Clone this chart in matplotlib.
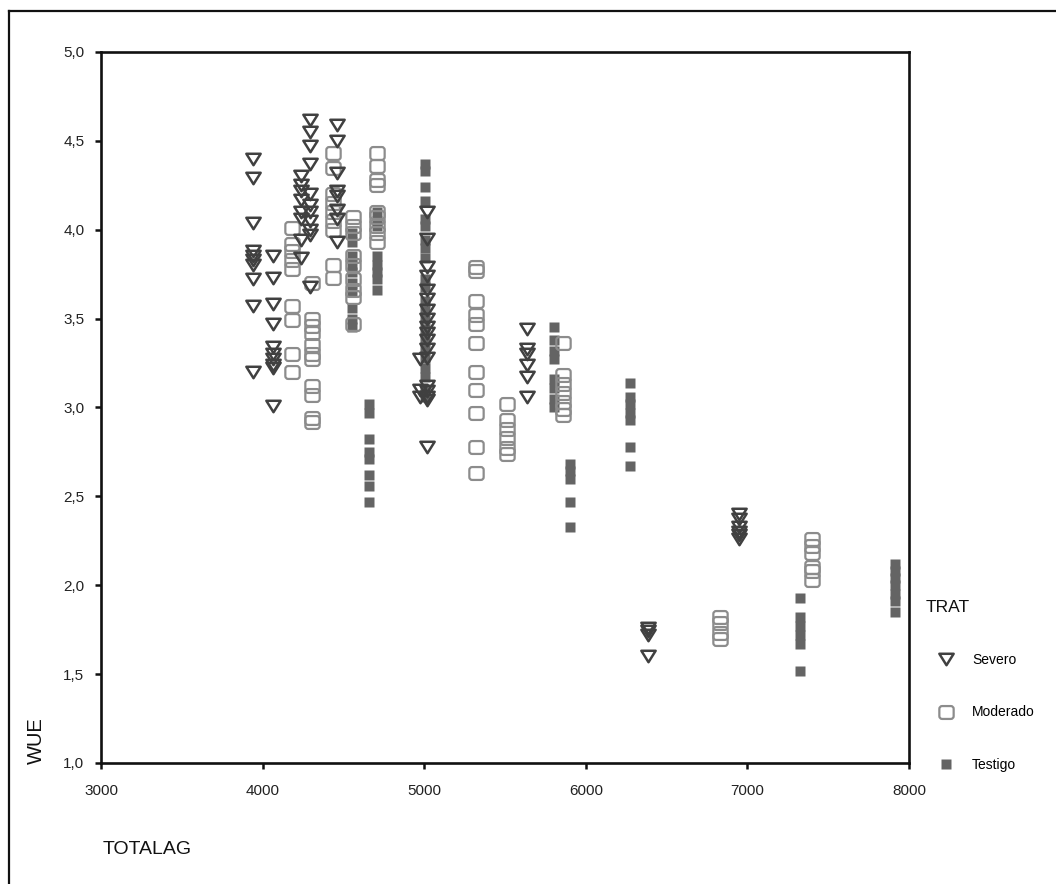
import matplotlib
matplotlib.use('Agg')
import matplotlib.pyplot as plt
from matplotlib.path import Path
from matplotlib.lines import Line2D
from matplotlib.ticker import FuncFormatter

plt.rcParams['font.family'] = ['Liberation Sans', 'DejaVu Sans']

# columns of points: x value of each column and the WUE values in it
severo_cols = [3940, 4065, 4240, 4295, 4460, 4975, 5020, 5635, 6385, 6948]
severo_vals = [
    [4.40, 4.29, 4.04, 3.88, 3.85, 3.83, 3.80, 3.72, 3.57, 3.20],
    [3.85, 3.73, 3.58, 3.47, 3.34, 3.30, 3.27, 3.24, 3.22, 3.01],
    [4.30, 4.25, 4.22, 4.17, 4.10, 4.06, 3.94, 3.84],
    [4.62, 4.55, 4.47, 4.37, 4.20, 4.14, 4.10, 4.05, 4.00, 3.97, 3.68],
    [4.59, 4.50, 4.32, 4.22, 4.19, 4.11, 4.06, 3.93],
    [3.27, 3.10, 3.06],
    [4.10, 3.95, 3.79, 3.74, 3.66, 3.61, 3.55, 3.50, 3.45, 3.42, 3.38,
     3.33, 3.28, 3.12, 3.09, 3.06, 3.04, 2.78],
    [3.44, 3.33, 3.30, 3.24, 3.17, 3.06],
    [1.76, 1.74, 1.72, 1.60],
    [2.40, 2.37, 2.33, 2.30, 2.28, 2.26],
]

moderado_cols = [4180, 4305, 4436, 4560, 4708, 5320, 5512, 5860, 6830, 7400]
moderado_vals = [
    [4.01, 3.92, 3.88, 3.83, 3.78, 3.57, 3.49, 3.30, 3.20],
    [3.70, 3.50, 3.46, 3.42, 3.35, 3.30, 3.27, 3.12, 3.07, 2.94, 2.92],
    [4.43, 4.35, 4.20, 4.15, 4.10, 4.05, 4.00, 3.80, 3.73],
    [4.07, 4.02, 3.98, 3.85, 3.80, 3.72, 3.66, 3.62, 3.47],
    [4.43, 4.36, 4.28, 4.25, 4.10, 4.07, 4.02, 3.98, 3.93],
    [3.79, 3.77, 3.60, 3.52, 3.47, 3.36, 3.20, 3.10, 2.97, 2.78, 2.63],
    [3.02, 2.93, 2.88, 2.83, 2.77, 2.74],
    [3.36, 3.18, 3.13, 3.08, 3.03, 2.99, 2.96],
    [1.82, 1.79, 1.73, 1.70],
    [2.26, 2.22, 2.18, 2.10, 2.08, 2.03],
]

testigo_cols = [4555, 4658, 4708, 5005, 5805, 5900, 6273, 7325, 7913]
testigo_vals = [
    [3.98, 3.93, 3.85, 3.80, 3.76, 3.70, 3.65, 3.56, 3.50, 3.45],
    [3.02, 2.97, 2.82, 2.75, 2.71, 2.62, 2.56, 2.47],
    [4.10, 4.05, 4.02, 3.85, 3.80, 3.76, 3.72, 3.66],
    [4.37, 4.33, 4.24, 4.16, 4.06, 4.02, 3.94, 3.90, 3.84, 3.72, 3.68,
     3.60, 3.56, 3.50, 3.44, 3.38, 3.33, 3.28, 3.22, 3.17, 3.10, 3.06],
    [3.45, 3.38, 3.32, 3.27, 3.16, 3.11, 3.05, 3.00],
    [2.68, 2.64, 2.60, 2.47, 2.33],
    [3.14, 3.06, 3.02, 2.97, 2.93, 2.78, 2.67],
    [1.93, 1.82, 1.77, 1.72, 1.67, 1.52],
    [2.12, 2.08, 2.04, 2.00, 1.95, 1.91, 1.85],
]

x_ticks = [3000, 4000, 5000, 6000, 7000, 8000]
y_ticks = [1.0, 1.5, 2.0, 2.5, 3.0, 3.5, 4.0, 4.5, 5.0]


def flatten(cols, vals):
    xs, ys = [], []
    for c, v in zip(cols, vals):
        xs += [c] * len(v)
        ys += v
    return xs, ys


def rounded_square(w=1.0, h=0.9, r=0.4):
    C, L = Path.CURVE3, Path.LINETO
    verts = [(-w + r, -h), (w - r, -h), (w, -h), (w, -h + r),
             (w, h - r), (w, h), (w - r, h),
             (-w + r, h), (-w, h), (-w, h - r),
             (-w, -h + r), (-w, -h), (-w + r, -h), (0, 0)]
    codes = [Path.MOVETO, L, C, C, L, C, C, L, C, C, L, C, C, Path.CLOSEPOLY]
    return Path(verts, codes)


tri_down = Path([(-1, 0.8), (1, 0.8), (0, -0.8), (-1, 0.8)],
                [Path.MOVETO, Path.LINETO, Path.LINETO, Path.CLOSEPOLY])

fig = plt.figure(figsize=(10.56, 8.84), dpi=100)
ax = fig.add_axes([0.0956, 0.1369, 0.7652, 0.8043])

tx, ty = flatten(testigo_cols, testigo_vals)
mx, my = flatten(moderado_cols, moderado_vals)
sx, sy = flatten(severo_cols, severo_vals)

h_t, = ax.plot(tx, ty, ls='none', marker='s', ms=6.6, mfc='#646464',
               mec='none', zorder=2, label='Testigo')
h_m, = ax.plot(mx, my, ls='none', marker=rounded_square(), ms=10.3, mfc='none',
               mec='#8c8c8c', mew=1.6, zorder=3, label='Moderado')
h_s, = ax.plot(sx, sy, ls='none', marker=tri_down, ms=10.3, mfc='none',
               mec='#404040', mew=1.8, zorder=4, label='Severo')

ax.set_xlim(3000, 8000)
ax.set_ylim(1.0, 5.0)
ax.set_xticks(x_ticks)
ax.set_yticks(y_ticks)
ax.yaxis.set_major_formatter(FuncFormatter(lambda v, p: f'{v:.1f}'.replace('.', ',')))
ax.tick_params(direction='out', length=4, width=1.8, labelsize=11,
               labelcolor='#222222', color='#111111')
ax.tick_params(axis='y', pad=8)
ax.tick_params(axis='x', pad=11)
for s in ax.spines.values():
    s.set_linewidth(1.9)
    s.set_color('#111111')

fig.text(36 / 1056, 1 - 741 / 884, 'WUE', rotation=90, ha='center',
         va='center', fontsize=14.5, color='#111111')
fig.text(103 / 1056, 1 - 849 / 884, 'TOTALAG', ha='left', va='center',
         fontsize=14, color='#111111')

leg = fig.legend(handles=[h_s, h_m, h_t], title='TRAT', loc='upper left',
                 bbox_to_anchor=(926 / 1056, 1 - 600 / 884),
                 bbox_transform=fig.transFigure, frameon=False,
                 fontsize=10, title_fontsize=12.5, labelspacing=2.75,
                 handlelength=2.9, handletextpad=0.4, borderpad=0,
                 borderaxespad=0, alignment='left')
leg.get_title().set_color('#111111')

# outer frame (top and left edges visible)
fig.add_artist(Line2D([9 / 1056, 1], [1 - 11 / 884, 1 - 11 / 884],
                      transform=fig.transFigure, color='#111111', lw=1.6))
fig.add_artist(Line2D([9 / 1056, 9 / 1056], [0, 1 - 11 / 884],
                      transform=fig.transFigure, color='#111111', lw=1.6))

fig.savefig('out.png', dpi=100)
